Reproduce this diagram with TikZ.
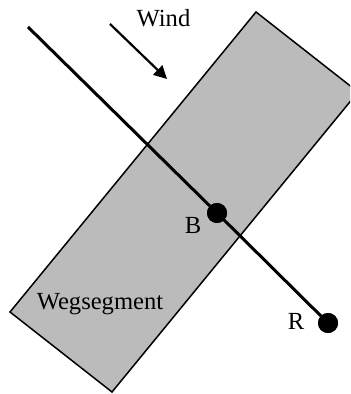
\documentclass[tikz,border=0pt]{standalone}
\usepackage{fontspec}
\setmainfont{Liberation Serif}
\usetikzlibrary{arrows.meta}
\definecolor{roadc}{RGB}{187,187,187}
\tikzset{
  road/.style={draw=black, line width=0.75pt, fill=roadc},
  ray/.style={line width=1.5pt},
  dot/.style={circle, fill=black, inner sep=0pt, minimum size=10pt},
  windarrow/.style={-{Triangle[length=6.5pt,width=6.5pt]}, line width=1.1pt},
  lbl/.style={font=\fontsize{12.3}{14}\selectfont, inner sep=0pt, anchor=base}
}

\begin{document}
\begin{tikzpicture}[x=0.5pt, y=-0.5pt]
  \clip (0,0) rectangle (350,394);

  % road segment
  \coordinate (segtop) at (256,12);
  \coordinate (segright) at (358,92);
  \coordinate (segbot) at (112,392);
  \coordinate (segleft) at (10,312);
  \draw[road] (segtop) -- (segright) -- (segbot) -- (segleft) -- cycle;
  \node[lbl] (seglabel) at (100,309) {Wegsegment};

  % ray with the two points
  \coordinate (start) at (28,27);
  \node[dot] (B) at (217,213) {};
  \node[dot] (R) at (328,323) {};
  \draw[ray] (start) -- (B.center) -- (R.center);
  \node[dot] at (B) {};
  \node[dot] at (R) {};
  \node[lbl] (Blabel) at (193,234) {B};
  \node[lbl] (Rlabel) at (296,329) {R};

  % wind
  \coordinate (windfrom) at (110,24);
  \coordinate (windto) at (167,79);
  \draw[windarrow] (windfrom) -- (windto);
  \node[lbl] (windlabel) at (163.5,27) {Wind};
\end{tikzpicture}
\end{document}
